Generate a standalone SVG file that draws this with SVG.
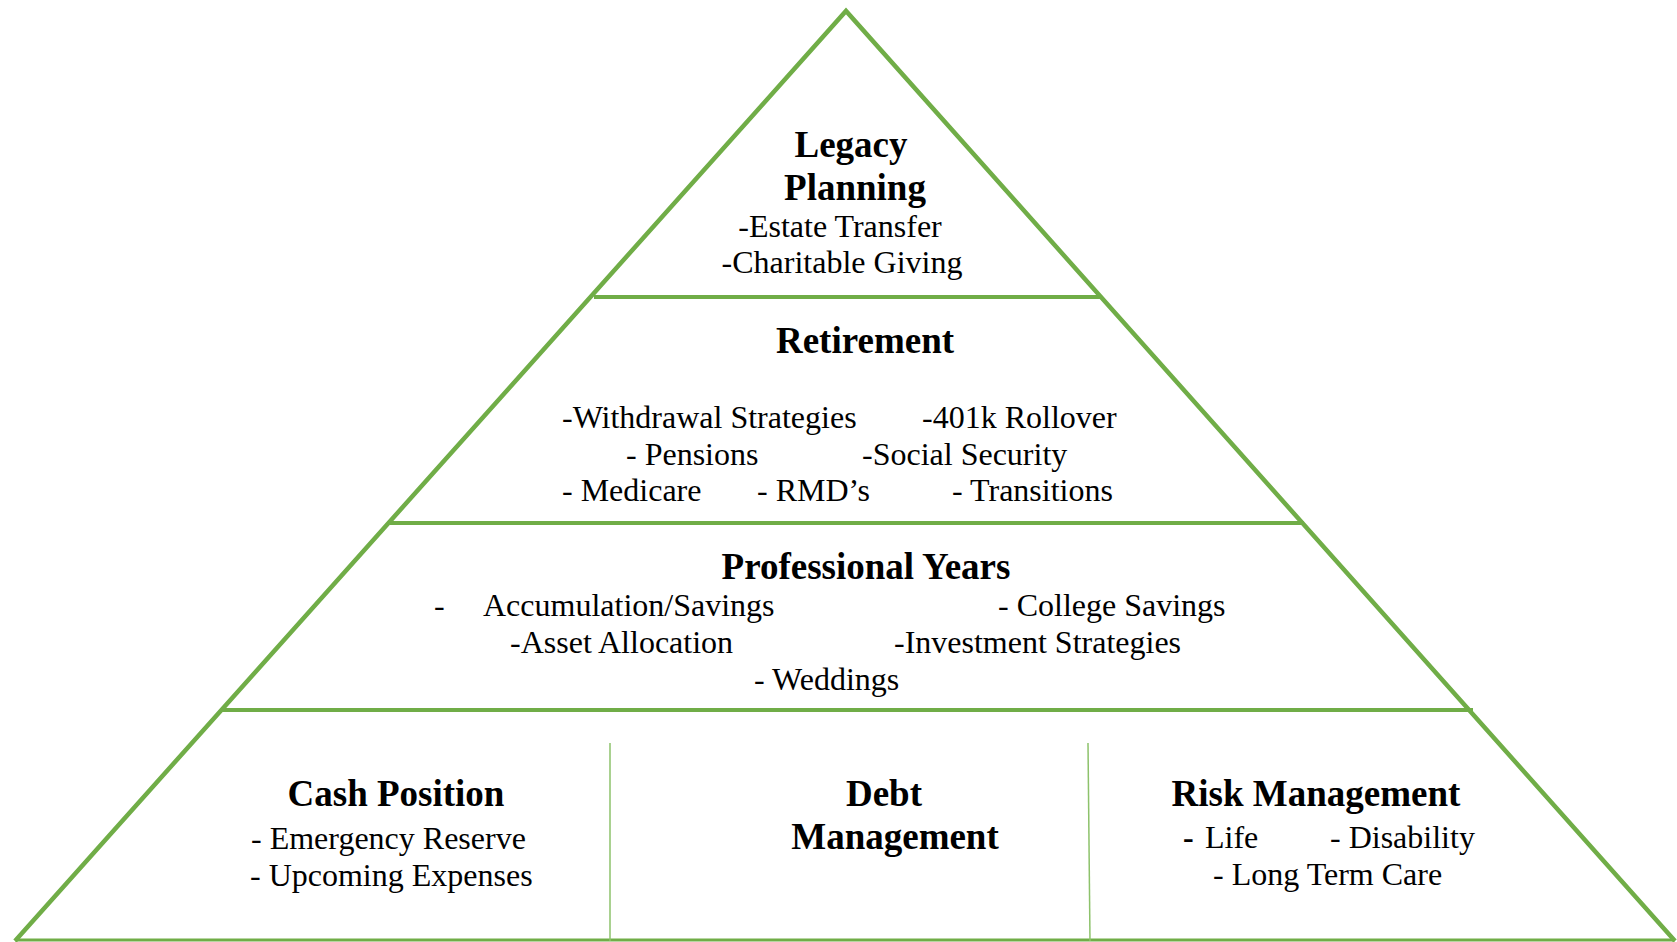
<svg xmlns="http://www.w3.org/2000/svg" width="1677" height="942" viewBox="0 0 1677 942">
<style>
.ln{stroke:#70AD47;fill:none}
.h{font-family:"Liberation Serif","Times New Roman",serif;font-weight:bold;font-size:37px;fill:#000}
.t{font-family:"Liberation Serif","Times New Roman",serif;font-size:32px;fill:#000}
</style>
<rect width="1677" height="942" fill="#fff"/>
<g id="connectors">
<polyline class="ln" stroke-width="4.5" points="15,941 846,11 1675,941"/>
<line class="ln" stroke-width="3" x1="15" y1="940" x2="1675" y2="940"/>
<line class="ln" stroke-width="4" x1="594" y1="297" x2="1100" y2="297"/>
<line class="ln" stroke-width="4" x1="390" y1="523" x2="1304" y2="523"/>
<line class="ln" stroke-width="4" x1="222" y1="710" x2="1473" y2="710"/>
<line class="ln" stroke-width="1.5" style="stroke:#8DC26B" x1="610" y1="743" x2="610" y2="941"/>
<line class="ln" stroke-width="1.5" style="stroke:#8DC26B" x1="1088" y1="743" x2="1090" y2="941"/>
</g>
<g id="legacy">
<text class="h" x="851" y="157" text-anchor="middle">Legacy</text>
<text class="h" x="855" y="200" text-anchor="middle">Planning</text>
<text class="t" x="840" y="237" text-anchor="middle">-Estate Transfer</text>
<text class="t" x="842" y="273" text-anchor="middle">-Charitable Giving</text>
</g>
<g id="retirement">
<text class="h" x="865" y="353" text-anchor="middle">Retirement</text>
<text class="t" x="562" y="428">-Withdrawal Strategies</text>
<text class="t" x="922" y="428">-401k Rollover</text>
<text class="t" x="626" y="465">- Pensions</text>
<text class="t" x="862" y="465">-Social Security</text>
<text class="t" x="562" y="501">- Medicare</text>
<text class="t" x="757" y="501">- RMD’s</text>
<text class="t" x="952" y="501">- Transitions</text>
</g>
<g id="professional">
<text class="h" x="866" y="579" text-anchor="middle">Professional Years</text>
<text class="t" x="434" y="616">-</text>
<text class="t" x="483" y="616">Accumulation/Savings</text>
<text class="t" x="998" y="616">- College Savings</text>
<text class="t" x="510" y="653">-Asset Allocation</text>
<text class="t" x="894" y="653">-Investment Strategies</text>
<text class="t" x="754" y="690">- Weddings</text>
</g>
<g id="cash">
<text class="h" x="396" y="806" text-anchor="middle">Cash Position</text>
<text class="t" x="251" y="849">- Emergency Reserve</text>
<text class="t" x="250" y="886">- Upcoming Expenses</text>
</g>
<g id="debt">
<text class="h" x="884" y="806" text-anchor="middle">Debt</text>
<text class="h" x="895" y="849" text-anchor="middle">Management</text>
</g>
<g id="risk">
<text class="h" x="1316" y="806" text-anchor="middle">Risk Management</text>
<text class="h" x="1183" y="848" style="font-size:32px">-</text>
<text class="t" x="1205" y="848">Life</text>
<text class="t" x="1330" y="848">- Disability</text>
<text class="t" x="1213" y="885">- Long Term Care</text>
</g>
</svg>
